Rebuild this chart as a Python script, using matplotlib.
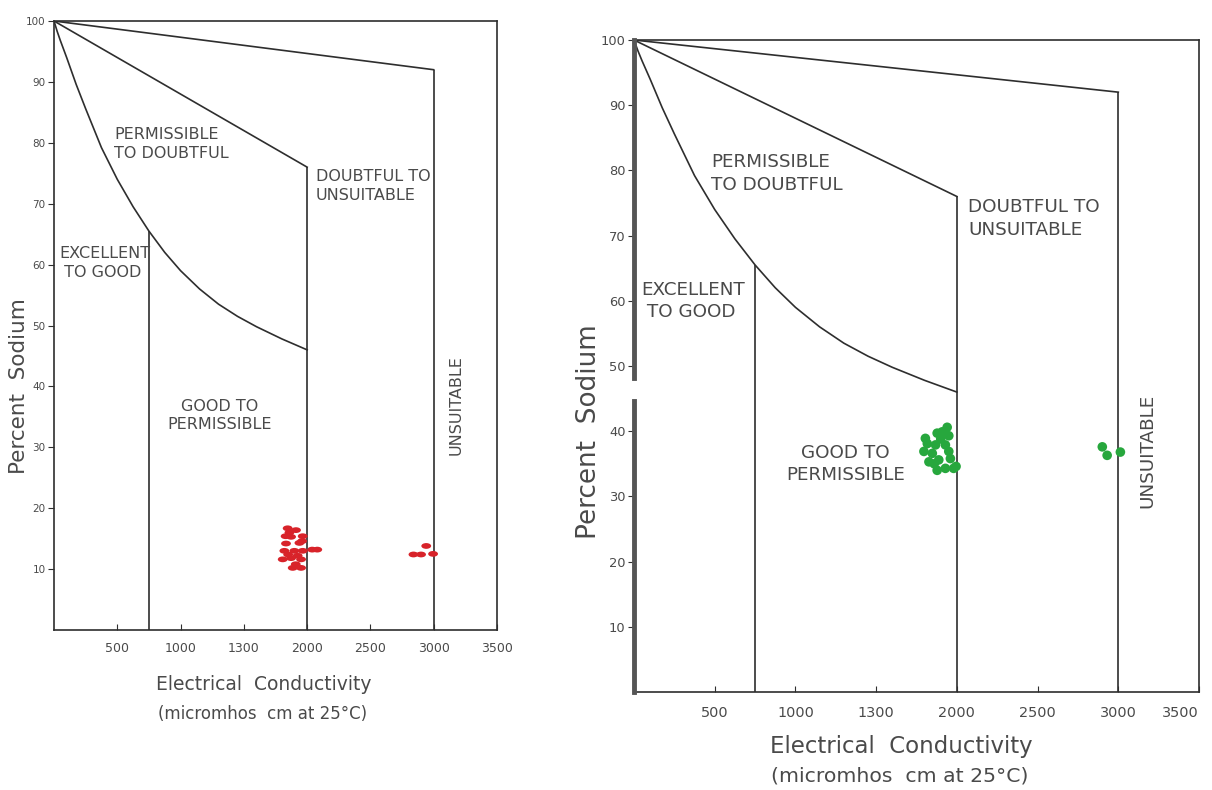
import numpy as np
import matplotlib.pyplot as plt
from matplotlib.path import Path
from matplotlib.transforms import Affine2D
from matplotlib.markers import MarkerStyle

# ---- diagram boundaries (EC micromhos/cm , % sodium)
ec_curve = [0, 25, 50, 100, 175, 250, 375, 500, 625, 750, 875, 1000, 1150, 1300,
            1450, 1600, 1800, 2000]
na_curve = [100, 98.3, 96.8, 94, 89.6, 85.6, 79.2, 74, 69.5, 65.5, 62, 59, 56,
            53.5, 51.5, 49.8, 47.8, 46]
ec_mid = [0, 2000]
na_mid = [100, 76]
ec_high = [0, 3000]
na_high = [100, 92]
ec_walls = [750, 2000, 3000]
na_walls = [65.5, 76, 92]

xticks = [500, 1000, 1500, 2000, 2500, 3000, 3500]
xtick_labels = ['500', '1000', '1300', '2000', '2500', '3000', '3500']
yticks = [10, 20, 30, 40, 50, 60, 70, 80, 90, 100]

# ---- samples
red_ec = [1846, 1912, 1965, 1873, 1860, 1833, 1939, 1820, 1899, 1965, 1807, 1873,
          1952, 1886, 1952, 2040, 2080, 1830, 1925, 1960, 1850, 1910,
          2840, 2900, 2941, 2995]
red_na = [16.7, 16.4, 15.4, 15.3, 16.0, 14.2, 14.3, 13.0, 13.0, 13.0, 11.6, 11.8,
          11.6, 10.2, 10.2, 13.2, 13.2, 15.4, 12.2, 14.6, 12.4, 10.8,
          12.4, 12.4, 13.8, 12.5]

green_ec = [1909, 1950, 1817, 1868, 1929, 1796, 1848, 1950, 1827, 1888, 1929, 1980,
            1878, 1878, 1960, 1805, 1900, 1940, 1860, 1995,
            2901, 2931, 3013]
green_na = [39.9, 39.3, 38.1, 37.9, 37.9, 36.9, 36.6, 36.9, 35.3, 35.6, 34.3, 34.3,
            34.0, 39.7, 35.8, 38.9, 38.8, 40.6, 35.0, 34.6,
            37.6, 36.3, 36.8]

line_c = '#2e2e2e'
text_c = '#4a4a4a'

# stretched dot, like the hand-drawn red marks
oval = MarkerStyle(Path.unit_circle().transformed(Affine2D().scale(1.7, 1.0)))


def draw_panel(ax, s, big, lab):
    ax.set_xlim(0, 3500)
    ax.set_ylim(0, 100)
    for sp in ax.spines.values():
        sp.set_color(line_c)
        sp.set_linewidth(1.2)

    ax.plot(ec_curve, na_curve, color=line_c, lw=1.2)
    ax.plot(ec_mid, na_mid, color=line_c, lw=1.2)
    ax.plot(ec_high, na_high, color=line_c, lw=1.2)
    ax.vlines(ec_walls, 0, na_walls, color=line_c, lw=1.2)

    ax.set_xticks(xticks)
    ax.set_xticklabels(xtick_labels)
    ax.set_yticks(yticks)
    ax.tick_params(axis='x', direction='in', length=4, pad=9 * s,
                   labelsize=9 * s, labelcolor=text_c, color=line_c)
    ax.tick_params(axis='y', direction='out', length=4, pad=2,
                   labelsize=7.5 * big, labelcolor=text_c, color=line_c)

    fs = 11.5 * s
    ax.text(476, 82.6, 'PERMISSIBLE\nTO DOUBTFUL', fontsize=fs, color=text_c,
            ha='left', va='top', linespacing=1.3)
    ax.text(2070, 75.7, 'DOUBTFUL TO\nUNSUITABLE', fontsize=fs, color=text_c,
            ha='left', va='top', linespacing=1.3)
    ax.text(43, 63, 'EXCELLENT\n TO GOOD', fontsize=fs, color=text_c,
            ha='left', va='top', linespacing=1.3)
    ax.text(1310, 38, 'GOOD TO\nPERMISSIBLE', fontsize=fs, color=text_c,
            ha='center', va='top', linespacing=1.3)
    ax.text(3178, 37, 'UNSUITABLE', fontsize=fs, color=text_c,
            ha='center', va='center', rotation=90)

    ax.text(0.473, lab[0], 'Electrical  Conductivity', transform=ax.transAxes,
            fontsize=13.5 * lab[2], color=text_c, ha='center', va='center')
    ax.text(0.47, lab[1], '(micromhos  cm at 25\u00b0C)', transform=ax.transAxes,
            fontsize=12 * lab[2], color=text_c, ha='center', va='center')
    ax.text(-0.08, 0.40, 'Percent  Sodium', transform=ax.transAxes,
            fontsize=15.5 * lab[2], color=text_c, ha='center', va='center',
            rotation=90)


fig = plt.figure(figsize=(12.12, 7.9), dpi=100)

ax1 = fig.add_axes([54 / 1212, 1 - 630 / 790, 443 / 1212, 609 / 790])
draw_panel(ax1, 1.0, 1.0, (-0.090, -0.138, 1.0))
ax1.scatter(red_ec, red_na, marker=oval, s=50, color='#d8232a', edgecolors='none',
            zorder=3)

ax2 = fig.add_axes([634 / 1212, 1 - 692 / 790, 565 / 1212, 652 / 790])
draw_panel(ax2, 1.15, 1.25, (-0.084, -0.129, 1.22))
ax2.get_xticklabels()[-1].set_horizontalalignment('right')
# thick, broken left axis of the second scan
ax2.spines['left'].set_visible(False)
ax2.plot([0, 0], [0, 44.7], color='#555555', lw=3.5, clip_on=False, zorder=4)
ax2.plot([0, 0], [48.1, 100], color='#555555', lw=3.5, clip_on=False, zorder=4)
ax2.scatter(green_ec, green_na, marker='o', s=48, color='#27a73d', edgecolors='none',
            zorder=3)

plt.savefig('out.png', dpi=100)
